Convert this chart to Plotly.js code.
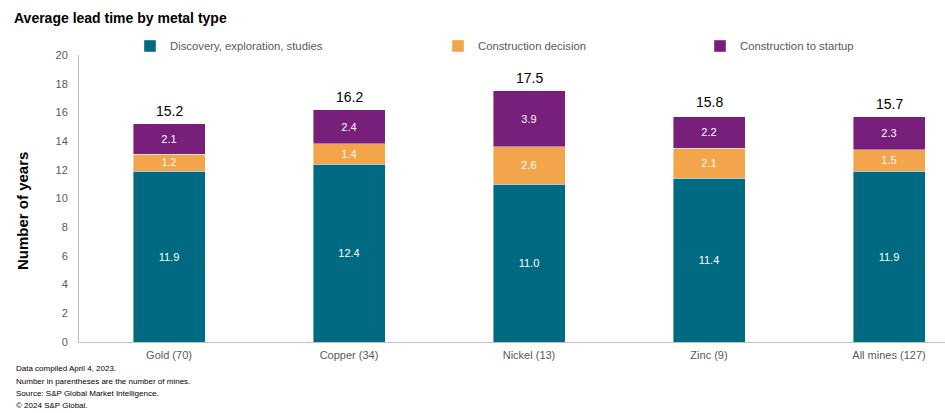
<!DOCTYPE html>
<html>
<head>
<meta charset="utf-8">
<script src="https://cdn.plot.ly/plotly-3.0.1.min.js"></script>
<style>html,body{margin:0;padding:0;background:#fff;}#chart{width:945px;height:413px;}</style>
</head>
<body>
<div id="chart"></div>
<script>
const categories = ["Gold (70)", "Copper (34)", "Nickel (13)", "Zinc (9)", "All mines (127)"];
const discovery = [11.9, 12.4, 11.0, 11.4, 11.9];
const decision = [1.2, 1.4, 2.6, 2.1, 1.5];
const startup = [2.1, 2.4, 3.9, 2.2, 2.3];
const totals = [15.2, 16.2, 17.5, 15.8, 15.7];
const seriesNames = ["Discovery, exploration, studies", "Construction decision", "Construction to startup"];
const yTicks = [0, 2, 4, 6, 8, 10, 12, 14, 16, 18, 20];
const notes = ["Data compiled April 4, 2023.", "Number in parentheses are the number of mines.", "Source: S&P Global Market Intelligence.", "\u00a9 2024 S&P Global."];

const FONT = "Liberation Sans, Arial, sans-serif";
const colors = ["#006A82", "#F2A54A", "#771F7B"];
const W = 945, H = 413, L = 79, R = 0, T = 55, B = 71;
const plotW = W - L - R, plotH = H - T - B;
const px2x = p => (p - L) / plotW;
const px2y = p => (H - B - p) / plotH;

const seriesVals = [discovery, decision, startup];
const legendIds = ["legend", "legend2", "legend3"];
const traces = seriesVals.map((vals, i) => ({
  type: "bar",
  name: seriesNames[i],
  x: categories,
  y: vals,
  width: 0.4,
  marker: {color: colors[i], line: {color: "rgba(255,255,255,0.7)", width: 0.6}},
  text: vals.map(v => v.toFixed(1)),
  textposition: "inside",
  insidetextanchor: "middle",
  textangle: 0,
  textfont: {family: FONT, size: 11, color: "#ffffff"},
  hoverinfo: "skip",
  legend: legendIds[i]
}));

const annotations = categories.map((c, i) => ({
  x: c, y: totals[i], xref: "x", yref: "y",
  text: totals[i].toFixed(1), showarrow: false,
  yanchor: "bottom", yshift: 3,
  font: {family: FONT, size: 14, color: "#000000"}
}));
notes.forEach((n, i) => annotations.push({
  x: px2x(14), y: px2y(369 + i * 12), xref: "paper", yref: "paper",
  text: n, showarrow: false, xanchor: "left", yanchor: "middle",
  font: {family: FONT, size: 8, color: "#000000"}
}));
annotations.push({
  x: px2x(22), y: px2y(211), xref: "paper", yref: "paper",
  text: "<b>Number of years</b>", showarrow: false, textangle: -90,
  xanchor: "center", yanchor: "middle",
  font: {family: FONT, size: 15, color: "#000000"}
});

const legendTextX = [170, 478, 740];
const legendBase = {
  orientation: "h", yanchor: "middle", y: px2y(46), xanchor: "left",
  bgcolor: "rgba(0,0,0,0)", font: {family: FONT, size: 11.3, color: "#595959"},
  itemwidth: 30, traceorder: "normal"
};
const layout = {
  width: W, height: H,
  margin: {l: L, r: R, t: T, b: B},
  paper_bgcolor: "#ffffff", plot_bgcolor: "#ffffff",
  barmode: "stack",
  title: {text: "<b>Average lead time by metal type</b>", x: 14 / W, xref: "container", xanchor: "left",
          y: 1 - 18 / H, yref: "container", yanchor: "middle",
          font: {family: FONT, size: 14, color: "#000000"}},
  xaxis: {range: [-0.5, plotW / 180 - 0.5], showgrid: false, zeroline: false,
          showline: true, linecolor: "#BFBFBF", linewidth: 1, ticks: "",
          ticklabelstandoff: 3,
          tickfont: {family: FONT, size: 11, color: "#595959"}, fixedrange: true},
  yaxis: {range: [0, 20], tickvals: yTicks, showgrid: false, zeroline: false,
          showline: true, linecolor: "#BFBFBF", linewidth: 1, ticks: "",
          ticklabelstandoff: 8,
          tickfont: {family: FONT, size: 11, color: "#595959"}, fixedrange: true},
  showlegend: true,
  annotations: annotations,
  font: {family: FONT}
};
legendIds.forEach((id, i) => {
  layout[id] = Object.assign({}, legendBase, {x: px2x(legendTextX[i] - 40)});
});

Plotly.newPlot("chart", traces, layout, {displayModeBar: false, staticPlot: true});
</script>
</body>
</html>
